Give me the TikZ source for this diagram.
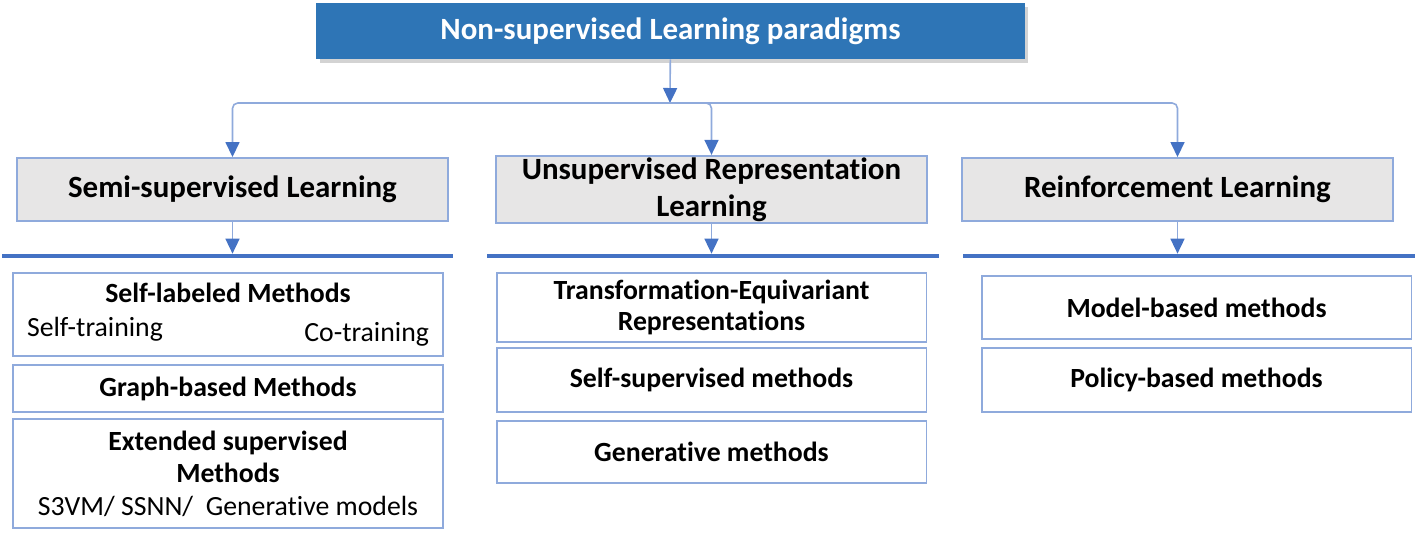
\documentclass[tikz,border=0pt]{standalone}
\usepackage{fontspec}
\setmainfont{Carlito}[Ligatures=NoCommon]
\definecolor{paradigmblue}{RGB}{46,117,182}
\definecolor{headgray}{RGB}{231,230,230}
\definecolor{edgeblue}{RGB}{143,170,220}
\definecolor{tipblue}{RGB}{68,114,196}
\usepackage{tikz}
\usetikzlibrary{arrows.meta,shadows}

\begin{document}
\begin{tikzpicture}[x=0.02cm,y=-0.02cm,
      t/.style={fill=paradigmblue,text=white,font=\fontsize{17.6}{21}\selectfont\bfseries,
                minimum width=14.18cm,minimum height=1.12cm,
                drop shadow={shadow xshift=2pt,shadow yshift=-2pt,opacity=0.35}},
      h/.style={draw=edgeblue,line width=1.1pt,fill=headgray,align=center,
                minimum width=8.62cm,minimum height=1.26cm,inner sep=1pt,
                font=\fontsize{17.6}{21}\selectfont\bfseries},
      b/.style={draw=edgeblue,line width=1.1pt,fill=white,align=center,
                minimum width=8.6cm,inner sep=1pt,
                font=\fontsize{15.8}{17.5}\selectfont\bfseries},
      bar/.style={fill=tipblue,inner sep=0pt,minimum height=0.08cm},
      a/.style={-{Triangle[length=0.3cm,width=0.28cm,color=tipblue]},
                color=edgeblue,line width=0.9pt,rounded corners=3pt}]
      \useasboundingbox (0,0) rectangle (1416,532);
      % top
      \node[t] (np) at (670.5,31) {Non-supervised Learning paradigms};
      \coordinate (fork) at (670,103);
      \draw[a] (np) -- (fork);
      % paradigms
      \node[h] (semi) at (232.5,189.5) {Semi-supervised Learning};
      \node[h] (unsup) at (711.5,189.5) {Unsupervised Representation\\Learning};
      \node[h] (reinf) at (1177.5,189.5) {Reinforcement Learning};
      \draw[a] (fork) -| (semi); \draw[a] (fork) -| (unsup); \draw[a] (fork) -| (reinf);
      \node[bar,minimum width=9.02cm] (sbar) at (227.5,256) {};
      \node[bar,minimum width=9.04cm] (ubar) at (713,256) {};
      \node[bar,minimum width=9.04cm] (rbar) at (1189,256) {};
      \draw[a] (semi.south) -- (semi.south |- sbar.north);
      \draw[a] (unsup.south) -- (unsup.south |- ubar.north);
      \draw[a] (reinf.south) -- (reinf.south |- rbar.north);
      % methods
      \node[b,minimum height=1.66cm] (sl) at (228,314.5) {Self-labeled Methods\\[2pt]
        \normalfont\makebox[8.04cm]{Self-training\hfill\raisebox{-3pt}{Co-training}}};
      \node[b,minimum height=0.94cm] (gb) at (228,388.5) {Graph-based Methods};
      \node[b,minimum height=2.18cm] (es) at (228,473.5) {Extended supervised\\[1pt]Methods\\[1pt]
        \normalfont S3VM/ SSNN/~ Generative models};
      \node[b,minimum height=1.38cm] (te) at (711.5,307.5) {Transformation-Equivariant\\Representations};
      \node[b,minimum height=1.28cm] (ss) at (711.5,380) {Self-supervised methods};
      \node[b,minimum height=1.24cm] (gm) at (711.5,452) {Generative methods};
      \node[b,minimum height=1.26cm] (mb) at (1196.5,307.5) {Model-based methods};
      \node[b,minimum height=1.28cm] (pb) at (1196.5,380) {Policy-based methods};
    \end{tikzpicture}
\end{document}
